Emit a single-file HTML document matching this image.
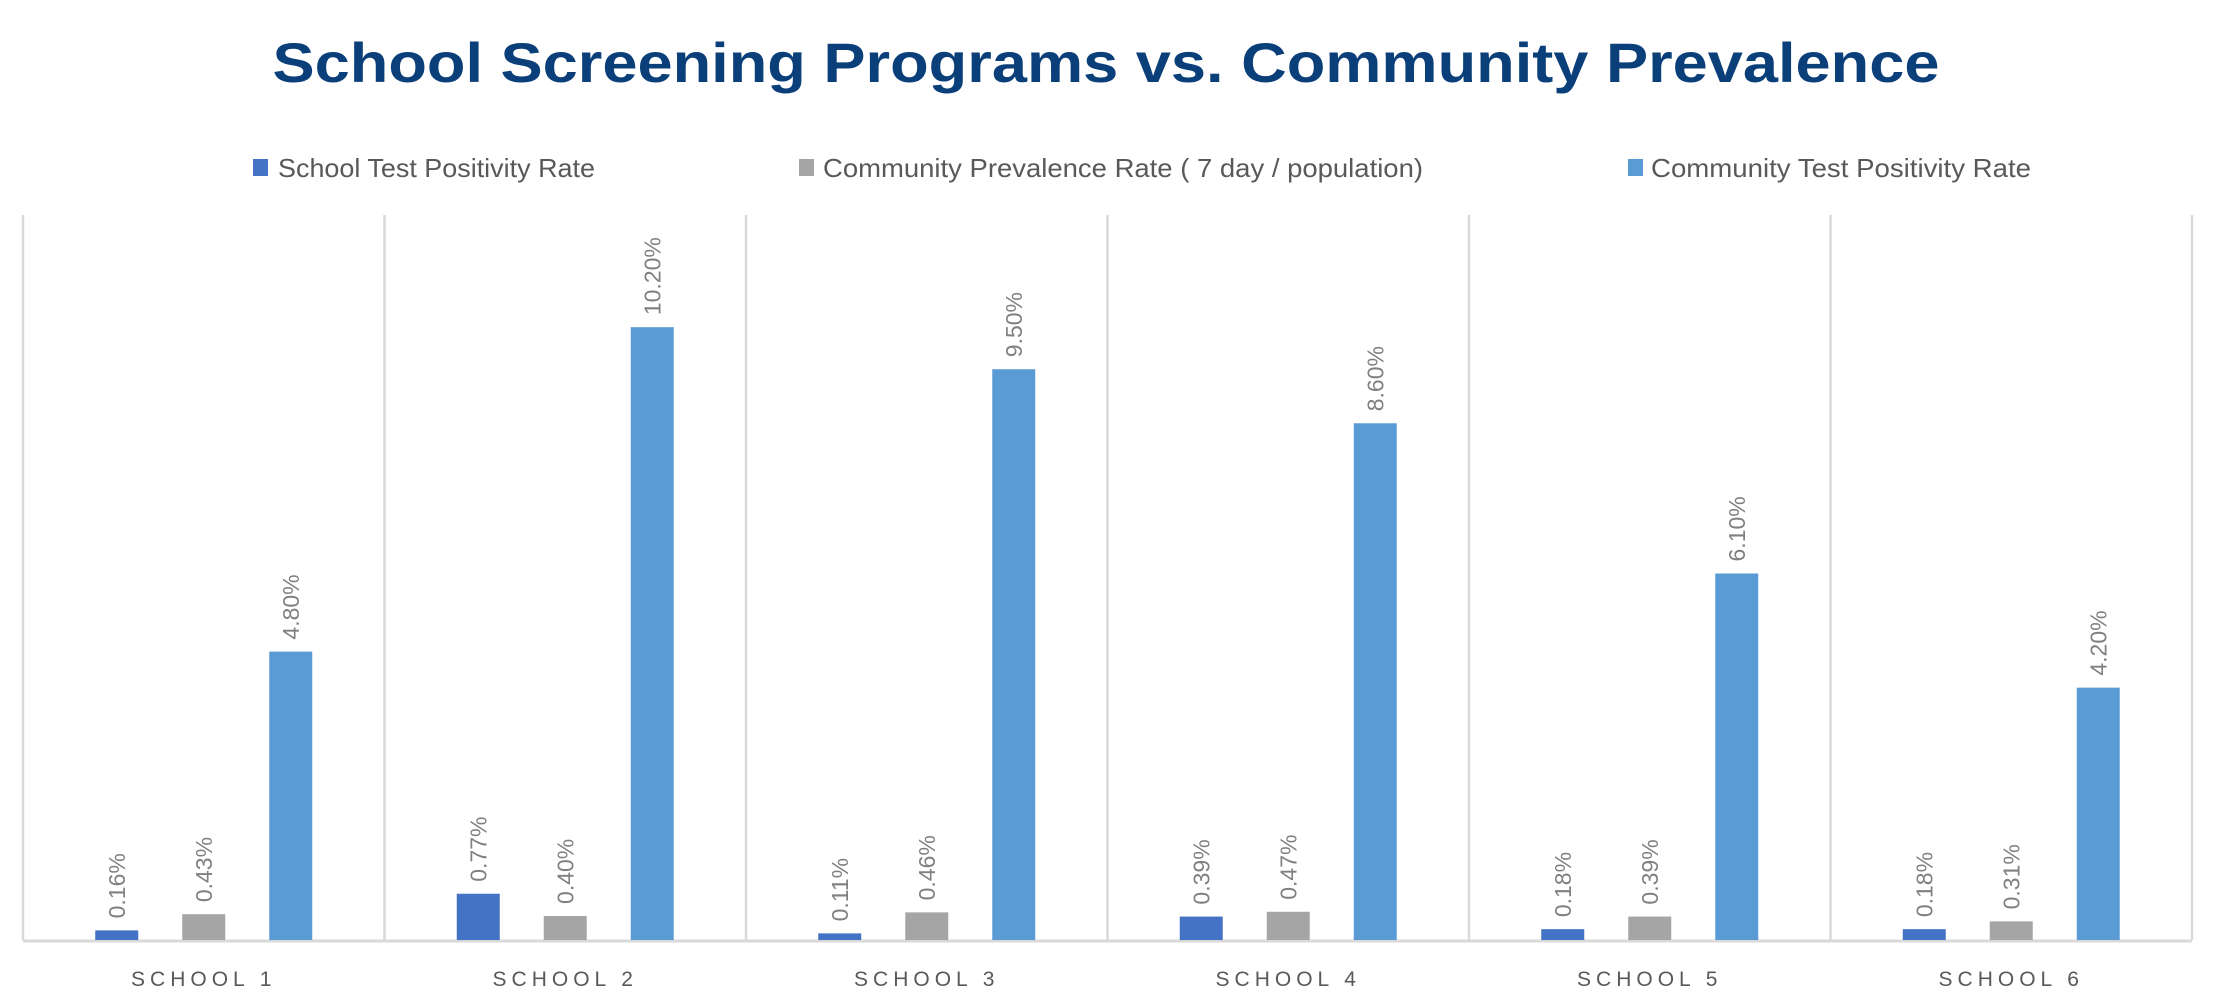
<!DOCTYPE html>
<html><head><meta charset="utf-8"><style>
html,body{margin:0;padding:0;background:#fff;width:2220px;height:1004px;overflow:hidden}
svg{display:block;font-family:"Liberation Sans",sans-serif}
</style></head><body>
<svg id="chart" width="2220" height="1004" viewBox="0 0 2220 1004" xmlns="http://www.w3.org/2000/svg">
<text x="1106" y="82" text-anchor="middle" font-size="56" font-weight="bold" fill="#0b3f7a" textLength="1667" lengthAdjust="spacingAndGlyphs">School Screening Programs vs. Community Prevalence</text>
<g>
<g><rect x="253" y="159" width="15" height="17" fill="#4472c4"/><text x="278" y="177" font-size="26" fill="#595959" textLength="317" lengthAdjust="spacingAndGlyphs">School Test Positivity Rate</text></g>
<g><rect x="799" y="159" width="15" height="17" fill="#a5a5a5"/><text x="823" y="177" font-size="26" fill="#595959" textLength="600" lengthAdjust="spacingAndGlyphs">Community Prevalence Rate ( 7 day / population)</text></g>
<g><rect x="1628" y="159" width="15" height="17" fill="#5b9bd5"/><text x="1651" y="177" font-size="26" fill="#595959" textLength="380" lengthAdjust="spacingAndGlyphs">Community Test Positivity Rate</text></g>
</g>
<g id="plot"></g>
</svg>
<script>
const categories = ["SCHOOL 1","SCHOOL 2","SCHOOL 3","SCHOOL 4","SCHOOL 5","SCHOOL 6"];
const schoolPositivity = [0.16,0.77,0.11,0.39,0.18,0.18];
const communityPrevalence = [0.43,0.40,0.46,0.47,0.39,0.31];
const communityPositivity = [4.80,10.20,9.50,8.60,6.10,4.20];
const valueLabels1 = ["0.16%","0.77%","0.11%","0.39%","0.18%","0.18%"];
const valueLabels2 = ["0.43%","0.40%","0.46%","0.47%","0.39%","0.31%"];
const valueLabels3 = ["4.80%","10.20%","9.50%","8.60%","6.10%","4.20%"];

const NS="http://www.w3.org/2000/svg";
const plot=document.getElementById('plot');
const plotLeft=23,plotRight=2192,plotBase=940,plotTop=219,yMax=12;
const catW=(plotRight-plotLeft)/categories.length;
const yScale=v=>plotBase-(v/yMax)*(plotBase-plotTop);
const xCat=i=>plotLeft+i*catW;
function mk(tag,attrs){const e=document.createElementNS(NS,tag);for(const k in attrs)e.setAttribute(k,attrs[k]);plot.appendChild(e);return e;}
for(let i=0;i<=categories.length;i++){
  const l=mk('line',{x1:xCat(i),x2:xCat(i),y1:215,y2:plotBase,stroke:'#d9d9d9','stroke-width':2.5});
  
  
}
const ax=mk('line',{x1:plotLeft,x2:plotRight,y1:plotBase+1,y2:plotBase+1,stroke:'#d9d9d9','stroke-width':3});


const series=[[schoolPositivity,valueLabels1,'#4472c4',-87],[communityPrevalence,valueLabels2,'#a5a5a5',0],[communityPositivity,valueLabels3,'#5b9bd5',87]];
categories.forEach((c,i)=>{
  const cx=xCat(i)+catW/2;
  series.forEach((s,si)=>{
    const bx=cx+s[3]-21.5, by=yScale(s[0][i]);
    const r=mk('rect',{x:bx,y:by,width:43,height:plotBase-by,fill:s[2]});
    
    
    const t=mk('text',{x:0,y:0,transform:`translate(${cx+s[3]+8},${by-12}) rotate(-90)`,'font-size':23,fill:'#808080'});
    t.textContent=s[1][i];
    
    
  });
  const t=mk('text',{x:cx,y:986,'text-anchor':'middle','font-size':21,fill:'#595959','letter-spacing':'5'});
  t.textContent=c;
  
  
});
</script>
</body></html>
